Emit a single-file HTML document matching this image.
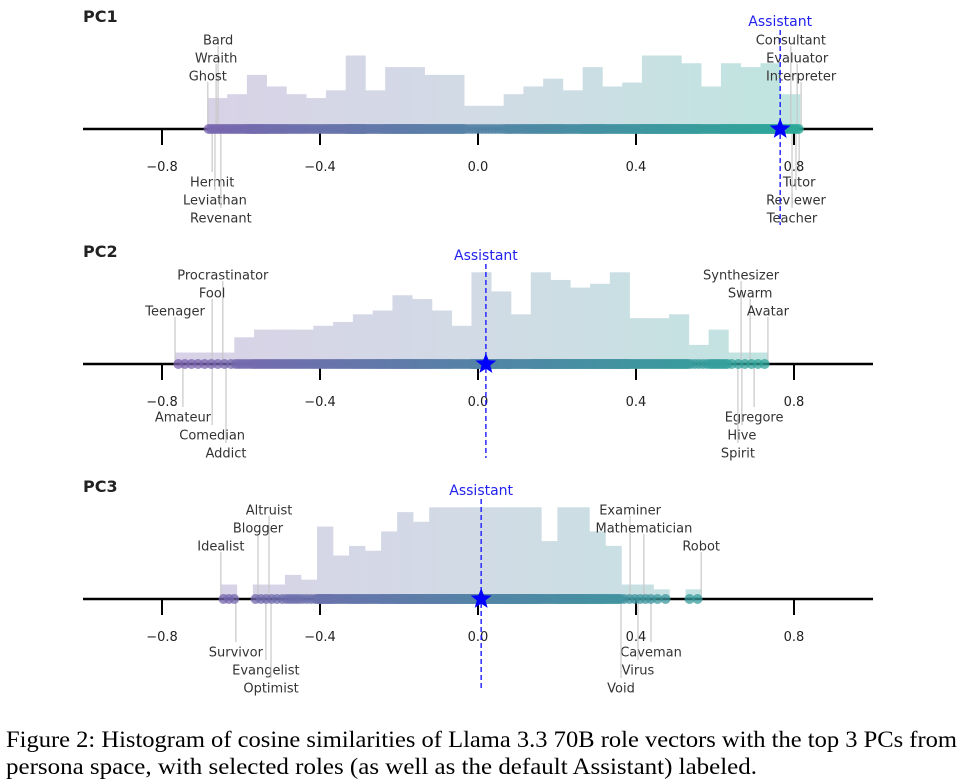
<!DOCTYPE html>
<html><head><meta charset="utf-8">
<style>
html,body{margin:0;padding:0;background:#fff;}
svg{display:block;}
text{font-family:"DejaVu Sans","Liberation Sans",sans-serif;}
.cap{font-family:"Liberation Serif",serif;font-size:23px;fill:#000;}
</style></head>
<body>
<svg id="chart" width="962" height="784" viewBox="0 0 962 784" xmlns="http://www.w3.org/2000/svg">
<defs>
<linearGradient id="barGrad" gradientUnits="userSpaceOnUse" x1="175" y1="0" x2="800" y2="0">
<stop offset="0" stop-color="#d9d1e7"/><stop offset="0.5" stop-color="#d1dbe5"/><stop offset="1" stop-color="#bfe5e0"/>
</linearGradient>
<linearGradient id="dotGrad" gradientUnits="userSpaceOnUse" x1="175" y1="0" x2="800" y2="0">
<stop offset="0" stop-color="#7d62b0"/><stop offset="0.5" stop-color="#5284a6"/><stop offset="1" stop-color="#2aa898"/>
</linearGradient>
</defs>
<g id="panels"></g>
<text class="cap" x="6" y="747" textLength="951" lengthAdjust="spacingAndGlyphs">Figure 2: Histogram of cosine similarities of Llama 3.3 70B role vectors with the top 3 PCs from</text>
<text class="cap" x="6" y="774" textLength="751" lengthAdjust="spacingAndGlyphs">persona space, with selected roles (as well as the default Assistant) labeled.</text>
</svg>
<script>
// ---- data ----
const tickValues = [-0.8, -0.4, 0.0, 0.4, 0.8];
const tickLabels = ["\u22120.8", "\u22120.4", "0.0", "0.4", "0.8"];

const pc1Counts = [8,9,14,11,9,8,10,19,10,16,16,14,14,6,6,9,11,13,10,16,11,12,19,19,17,11,17,16,17,9];
const pc1Range = [-0.685, 0.815];
const pc1Assistant = 0.765;
const pc1Roles = ["Bard","Wraith","Ghost","Hermit","Leviathan","Revenant","Consultant","Evaluator","Interpreter","Tutor","Reviewer","Teacher"];
const pc1RoleValues = [-0.658,-0.663,-0.684,-0.673,-0.666,-0.651,0.792,0.808,0.818,0.813,0.805,0.795];
const pc1RoleSides = ["up","up","up","down","down","down","up","up","up","down","down","down"];
const pc1RoleRows = [0,1,2,0,1,2,0,1,2,0,1,2];

const pc2Counts = [3,3,3,7,9,9,9,10,11,13,14,18,17,14,10,24,19,13,24,22,20,21,24,12,12,13,5,9,3,3];
const pc2Range = [-0.767, 0.734];
const pc2Assistant = 0.02;
const pc2Roles = ["Procrastinator","Fool","Teenager","Amateur","Comedian","Addict","Synthesizer","Swarm","Avatar","Egregore","Hive","Spirit"];
const pc2RoleValues = [-0.646,-0.673,-0.767,-0.747,-0.673,-0.638,0.666,0.689,0.734,0.699,0.668,0.658];
const pc2RoleSides = ["up","up","up","down","down","down","up","up","up","down","down","down"];
const pc2RoleRows = [0,1,2,0,1,2,0,1,2,0,1,2];

const pc3Counts = [3,0,3,3,5,4,15,9,11,10,14,18,16,19,19,19,19,19,19,19,12,19,19,14,11,3,3,2,0,2];
const pc3Range = [-0.651, 0.566];
const pc3Assistant = 0.008;
const pc3Roles = ["Altruist","Blogger","Idealist","Survivor","Evangelist","Optimist","Examiner","Mathematician","Robot","Caveman","Virus","Void"];
const pc3RoleValues = [-0.529,-0.557,-0.651,-0.613,-0.537,-0.524,0.385,0.420,0.565,0.438,0.405,0.362];
const pc3RoleSides = ["up","up","up","down","down","down","up","up","up","down","down","down"];
const pc3RoleRows = [0,1,2,0,1,2,0,1,2,0,1,2];

// ---- layout ----
const NS = "http://www.w3.org/2000/svg";
const X0 = 478, PX = 395;
function xScale(v){ return X0 + v*PX; }
const root = document.getElementById("panels");
function mk(tag, attrs, parent){
  const e = document.createElementNS(NS, tag);
  for (const k in attrs) e.setAttribute(k, attrs[k]);
  (parent||root).appendChild(e);
  return e;
}
function starPath(cx, cy, R){
  const r = R*0.42; let d = "";
  for (let i=0;i<10;i++){
    const a = -Math.PI/2 + i*Math.PI/5, rr = i%2?r:R;
    d += (i?"L":"M") + (cx+rr*Math.cos(a)).toFixed(2) + "," + (cy+rr*Math.sin(a)).toFixed(2);
  }
  return d+"Z";
}

const panels = [
  {name:"pc1", title:"PC1", axisY:129, maxH:73.5, counts:pc1Counts, range:pc1Range, asst:pc1Assistant, asstTop:30, asstBottom:225, asstLabelY:26,
   roles:pc1Roles, vals:pc1RoleValues, sides:pc1RoleSides, rows:pc1RoleRows},
  {name:"pc2", title:"PC2", axisY:364, maxH:91.7, counts:pc2Counts, range:pc2Range, asst:pc2Assistant, asstTop:264, asstBottom:458, asstLabelY:260,
   roles:pc2Roles, vals:pc2RoleValues, sides:pc2RoleSides, rows:pc2RoleRows},
  {name:"pc3", title:"PC3", axisY:599, maxH:91.7, counts:pc3Counts, range:pc3Range, asst:pc3Assistant, asstTop:499, asstBottom:690, asstLabelY:495,
   roles:pc3Roles, vals:pc3RoleValues, sides:pc3RoleSides, rows:pc3RoleRows}
];

panels.forEach(p => {
  const g = mk("g", {});
  
  
  const ay = p.axisY;
  const maxC = Math.max(...p.counts);
  const unit = p.maxH / maxC;
  const n = p.counts.length;
  const bw = (p.range[1]-p.range[0]) / n;

  const t = mk("text", {x:83, y:ay-107, "font-size":16, "font-weight":"bold", fill:"#222"}, g);
  t.textContent = p.title;
  
  

  p.counts.forEach((c, i) => {
    if (c <= 0) return;
    const xa = xScale(p.range[0] + i*bw), xb = xScale(p.range[0] + (i+1)*bw);
    const r = mk("rect", {x:xa, y:ay - c*unit, width:xb-xa+0.3, height:c*unit, fill:"url(#barGrad)"}, g);
    
    
  });

  p.roles.forEach((name, i) => {
    const x = xScale(p.vals[i]);
    const row = p.rows[i];
    let ty, y1, y2;
    if (p.sides[i] === "up"){ ty = ay - 89 + row*18; y1 = ty + 6; y2 = ay; }
    else { ty = ay + 53 + row*18; y1 = ay; y2 = ty - 10; }
    const ln = mk("line", {x1:x, x2:x, y1:y1, y2:y2, stroke:"#c8c8c8", "stroke-width":1.2}, g);
    
    
    const tx = mk("text", {x:x, y:ty+4.5, "font-size":13, "text-anchor":"middle", fill:"#333"}, g);
    tx.textContent = name;
    
    
  });

  const ax = mk("line", {x1:83, x2:873, y1:ay, y2:ay, stroke:"#000", "stroke-width":2.5}, g);
  
  

  tickValues.forEach((v, i) => {
    const x = xScale(v);
    const tk = mk("line", {x1:x, x2:x, y1:ay, y2:ay+16, stroke:"#000", "stroke-width":2}, g);
    
    
    const tl = mk("text", {x:x, y:ay+42, "font-size":13, "text-anchor":"middle", fill:"#222"}, g);
    tl.textContent = tickLabels[i];
    
    
  });

  p.counts.forEach((c, i) => {
    for (let k=0;k<c;k++){
      const v = p.range[0] + i*bw + (k+0.5)/c*bw;
      const d = mk("circle", {cx:xScale(v), cy:ay, r:5, fill:"url(#dotGrad)", "fill-opacity":0.75}, g);
      
      
    }
  });

  const ax0 = xScale(p.asst);
  const dl = mk("line", {x1:ax0, x2:ax0, y1:p.asstTop, y2:p.asstBottom, stroke:"#1a1aff", "stroke-width":1.4, "stroke-dasharray":"5,3"}, g);
  
  
  const st = mk("path", {d:starPath(ax0, ay, 11), fill:"#0000ff"}, g);
  
  
  const al = mk("text", {x:ax0, y:p.asstLabelY, "font-size":14, "text-anchor":"middle", fill:"#2222ee"}, g);
  al.textContent = "Assistant";
  
  
});
</script>
</body></html>
